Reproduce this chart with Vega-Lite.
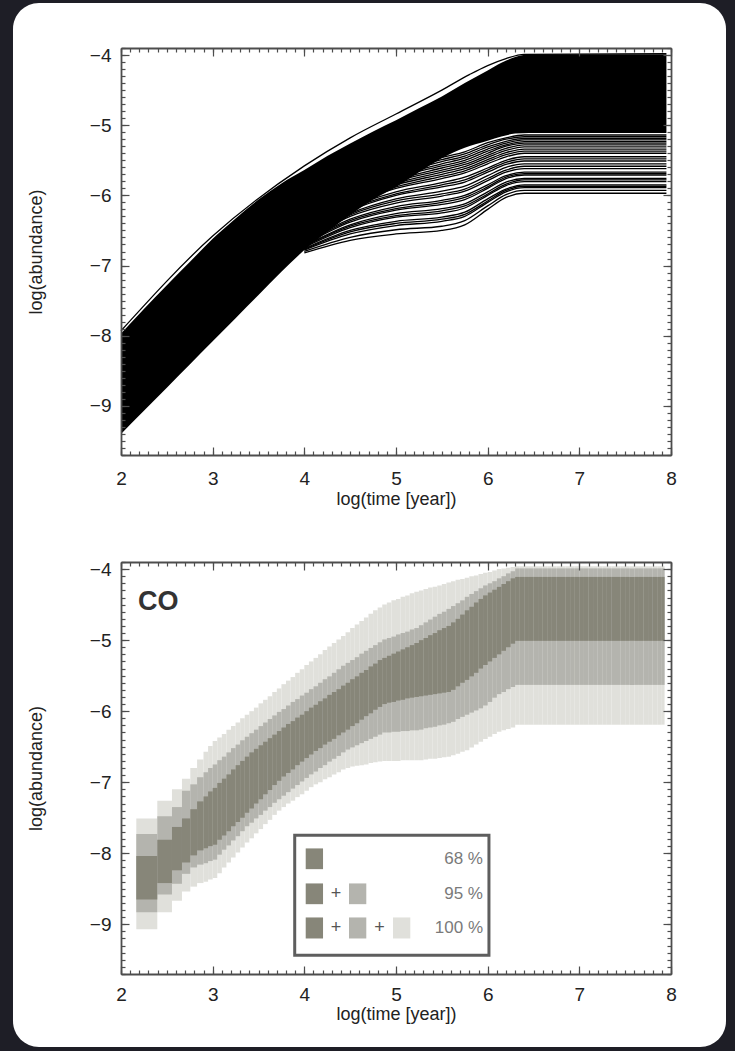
{
"$schema": "https://vega.github.io/schema/vega-lite/v6.json",
"background": "#1e1e26",
"padding": {"left": 12, "top": 3, "right": 10, "bottom": 4},
"autosize": {"type": "pad"},
"bounds": "flush",
"spacing": 107,
"config": {
  "view": {"stroke": null},
  "axis": {"grid": false, "domainColor": "#4d4d4d", "domainWidth": 1.8, "tickColor": "#4d4d4d", "tickWidth": 1.2, "labelFont": "Liberation Sans", "labelFontSize": 19, "labelColor": "#222", "titleFont": "Liberation Sans", "titleFontSize": 18, "titleFontWeight": "normal", "titleColor": "#222", "labelFlush": false, "labelOverlap": false}
},
"datasets": {
  "core": [
    {"x": 2.0, "lo": -9.4, "hi": -7.97},
    {"x": 2.25, "lo": -9.07, "hi": -7.62},
    {"x": 2.5, "lo": -8.74, "hi": -7.28},
    {"x": 2.75, "lo": -8.41, "hi": -6.95},
    {"x": 3.0, "lo": -8.08, "hi": -6.62},
    {"x": 3.25, "lo": -7.75, "hi": -6.33},
    {"x": 3.5, "lo": -7.42, "hi": -6.06},
    {"x": 3.75, "lo": -7.09, "hi": -5.83},
    {"x": 4.0, "lo": -6.78, "hi": -5.64},
    {"x": 4.25, "lo": -6.52, "hi": -5.44},
    {"x": 4.5, "lo": -6.28, "hi": -5.26},
    {"x": 4.75, "lo": -6.06, "hi": -5.09},
    {"x": 5.0, "lo": -5.88, "hi": -4.93},
    {"x": 5.25, "lo": -5.67, "hi": -4.76},
    {"x": 5.5, "lo": -5.47, "hi": -4.59},
    {"x": 5.75, "lo": -5.32, "hi": -4.4},
    {"x": 6.0, "lo": -5.22, "hi": -4.22},
    {"x": 6.15, "lo": -5.16, "hi": -4.11},
    {"x": 6.3, "lo": -5.12, "hi": -4.03},
    {"x": 6.45, "lo": -5.11, "hi": -3.99},
    {"x": 7.95, "lo": -5.11, "hi": -3.99}
  ],
  "lines": [
    {"id": "t1", "x": 2.0, "y": -7.93}, {"id": "t1", "x": 3.0, "y": -6.58}, {"id": "t1", "x": 4.0, "y": -5.58}, {"id": "t1", "x": 4.5, "y": -5.18}, {"id": "t1", "x": 5.0, "y": -4.84}, {"id": "t1", "x": 5.5, "y": -4.5}, {"id": "t1", "x": 5.8, "y": -4.28}, {"id": "t1", "x": 6.0, "y": -4.15}, {"id": "t1", "x": 6.2, "y": -4.05}, {"id": "t1", "x": 6.4, "y": -3.99}, {"id": "t1", "x": 7.95, "y": -3.98},
    {"id": "f1", "x": 4.0, "y": -6.82}, {"id": "f1", "x": 4.5, "y": -6.64}, {"id": "f1", "x": 5.0, "y": -6.55}, {"id": "f1", "x": 5.5, "y": -6.5}, {"id": "f1", "x": 5.75, "y": -6.42}, {"id": "f1", "x": 6.0, "y": -6.2}, {"id": "f1", "x": 6.2, "y": -6.03}, {"id": "f1", "x": 6.4, "y": -5.97}, {"id": "f1", "x": 7.95, "y": -5.97},
    {"id": "f2", "x": 4.0, "y": -6.8}, {"id": "f2", "x": 4.5, "y": -6.6}, {"id": "f2", "x": 5.0, "y": -6.49}, {"id": "f2", "x": 5.5, "y": -6.44}, {"id": "f2", "x": 5.75, "y": -6.36}, {"id": "f2", "x": 6.0, "y": -6.15}, {"id": "f2", "x": 6.2, "y": -5.99}, {"id": "f2", "x": 6.4, "y": -5.93}, {"id": "f2", "x": 7.95, "y": -5.93},
    {"id": "f3", "x": 4.0, "y": -6.78}, {"id": "f3", "x": 4.5, "y": -6.55}, {"id": "f3", "x": 5.0, "y": -6.43}, {"id": "f3", "x": 5.5, "y": -6.37}, {"id": "f3", "x": 5.75, "y": -6.3}, {"id": "f3", "x": 6.0, "y": -6.1}, {"id": "f3", "x": 6.2, "y": -5.95}, {"id": "f3", "x": 6.4, "y": -5.89}, {"id": "f3", "x": 7.95, "y": -5.89},
    {"id": "f4", "x": 4.0, "y": -6.76}, {"id": "f4", "x": 4.5, "y": -6.5}, {"id": "f4", "x": 5.0, "y": -6.37}, {"id": "f4", "x": 5.5, "y": -6.31}, {"id": "f4", "x": 5.75, "y": -6.24}, {"id": "f4", "x": 6.0, "y": -6.05}, {"id": "f4", "x": 6.2, "y": -5.91}, {"id": "f4", "x": 6.4, "y": -5.85}, {"id": "f4", "x": 7.95, "y": -5.85},
    {"id": "f5", "x": 4.0, "y": -6.74}, {"id": "f5", "x": 4.5, "y": -6.46}, {"id": "f5", "x": 5.0, "y": -6.31}, {"id": "f5", "x": 5.5, "y": -6.25}, {"id": "f5", "x": 5.75, "y": -6.18}, {"id": "f5", "x": 6.0, "y": -6.0}, {"id": "f5", "x": 6.2, "y": -5.86}, {"id": "f5", "x": 6.4, "y": -5.805}, {"id": "f5", "x": 7.95, "y": -5.805},
    {"id": "f6", "x": 4.0, "y": -6.72}, {"id": "f6", "x": 4.5, "y": -6.42}, {"id": "f6", "x": 5.0, "y": -6.26}, {"id": "f6", "x": 5.5, "y": -6.19}, {"id": "f6", "x": 5.75, "y": -6.12}, {"id": "f6", "x": 6.0, "y": -5.95}, {"id": "f6", "x": 6.2, "y": -5.81}, {"id": "f6", "x": 6.4, "y": -5.76}, {"id": "f6", "x": 7.95, "y": -5.76},
    {"id": "f7", "x": 4.0, "y": -6.7}, {"id": "f7", "x": 4.5, "y": -6.38}, {"id": "f7", "x": 5.0, "y": -6.21}, {"id": "f7", "x": 5.5, "y": -6.13}, {"id": "f7", "x": 5.75, "y": -6.06}, {"id": "f7", "x": 6.0, "y": -5.9}, {"id": "f7", "x": 6.2, "y": -5.76}, {"id": "f7", "x": 6.4, "y": -5.71}, {"id": "f7", "x": 7.95, "y": -5.71},
    {"id": "f8", "x": 4.0, "y": -6.68}, {"id": "f8", "x": 4.5, "y": -6.34}, {"id": "f8", "x": 5.0, "y": -6.16}, {"id": "f8", "x": 5.5, "y": -6.07}, {"id": "f8", "x": 5.75, "y": -6.0}, {"id": "f8", "x": 6.0, "y": -5.85}, {"id": "f8", "x": 6.2, "y": -5.72}, {"id": "f8", "x": 6.4, "y": -5.67}, {"id": "f8", "x": 7.95, "y": -5.67},
    {"id": "f9", "x": 4.0, "y": -6.66}, {"id": "f9", "x": 4.5, "y": -6.3}, {"id": "f9", "x": 5.0, "y": -6.11}, {"id": "f9", "x": 5.5, "y": -6.01}, {"id": "f9", "x": 5.75, "y": -5.94}, {"id": "f9", "x": 6.0, "y": -5.79}, {"id": "f9", "x": 6.2, "y": -5.67}, {"id": "f9", "x": 6.4, "y": -5.62}, {"id": "f9", "x": 7.95, "y": -5.62},
    {"id": "f10", "x": 4.0, "y": -6.64}, {"id": "f10", "x": 4.5, "y": -6.26}, {"id": "f10", "x": 5.0, "y": -6.05}, {"id": "f10", "x": 5.5, "y": -5.94}, {"id": "f10", "x": 5.75, "y": -5.87}, {"id": "f10", "x": 6.0, "y": -5.72}, {"id": "f10", "x": 6.2, "y": -5.6}, {"id": "f10", "x": 6.4, "y": -5.55}, {"id": "f10", "x": 7.95, "y": -5.55},
    {"id": "f11", "x": 4.0, "y": -6.62}, {"id": "f11", "x": 4.5, "y": -6.22}, {"id": "f11", "x": 5.0, "y": -6.0}, {"id": "f11", "x": 5.5, "y": -5.88}, {"id": "f11", "x": 5.75, "y": -5.81}, {"id": "f11", "x": 6.0, "y": -5.67}, {"id": "f11", "x": 6.2, "y": -5.56}, {"id": "f11", "x": 6.4, "y": -5.51}, {"id": "f11", "x": 7.95, "y": -5.51},
    {"id": "f12", "x": 4.0, "y": -6.6}, {"id": "f12", "x": 4.5, "y": -6.18}, {"id": "f12", "x": 5.0, "y": -5.95}, {"id": "f12", "x": 5.5, "y": -5.82}, {"id": "f12", "x": 5.75, "y": -5.74}, {"id": "f12", "x": 6.0, "y": -5.61}, {"id": "f12", "x": 6.2, "y": -5.5}, {"id": "f12", "x": 6.4, "y": -5.45}, {"id": "f12", "x": 7.95, "y": -5.45},
    {"id": "f13", "x": 4.0, "y": -6.58}, {"id": "f13", "x": 4.5, "y": -6.14}, {"id": "f13", "x": 5.0, "y": -5.9}, {"id": "f13", "x": 5.5, "y": -5.76}, {"id": "f13", "x": 5.75, "y": -5.68}, {"id": "f13", "x": 6.0, "y": -5.55}, {"id": "f13", "x": 6.2, "y": -5.45}, {"id": "f13", "x": 6.4, "y": -5.4}, {"id": "f13", "x": 7.95, "y": -5.4},
    {"id": "f14", "x": 4.0, "y": -6.56}, {"id": "f14", "x": 4.5, "y": -6.1}, {"id": "f14", "x": 5.0, "y": -5.85}, {"id": "f14", "x": 5.5, "y": -5.7}, {"id": "f14", "x": 5.75, "y": -5.62}, {"id": "f14", "x": 6.0, "y": -5.49}, {"id": "f14", "x": 6.2, "y": -5.39}, {"id": "f14", "x": 6.4, "y": -5.34}, {"id": "f14", "x": 7.95, "y": -5.34},
    {"id": "f15", "x": 4.0, "y": -6.54}, {"id": "f15", "x": 4.5, "y": -6.06}, {"id": "f15", "x": 5.0, "y": -5.8}, {"id": "f15", "x": 5.5, "y": -5.64}, {"id": "f15", "x": 5.75, "y": -5.56}, {"id": "f15", "x": 6.0, "y": -5.43}, {"id": "f15", "x": 6.2, "y": -5.33}, {"id": "f15", "x": 6.4, "y": -5.28}, {"id": "f15", "x": 7.95, "y": -5.28},
    {"id": "f16", "x": 4.0, "y": -6.52}, {"id": "f16", "x": 4.5, "y": -6.02}, {"id": "f16", "x": 5.0, "y": -5.75}, {"id": "f16", "x": 5.5, "y": -5.58}, {"id": "f16", "x": 5.75, "y": -5.5}, {"id": "f16", "x": 6.0, "y": -5.37}, {"id": "f16", "x": 6.2, "y": -5.28}, {"id": "f16", "x": 6.4, "y": -5.235}, {"id": "f16", "x": 7.95, "y": -5.235},
    {"id": "f17", "x": 4.0, "y": -6.5}, {"id": "f17", "x": 4.5, "y": -5.98}, {"id": "f17", "x": 5.0, "y": -5.7}, {"id": "f17", "x": 5.5, "y": -5.52}, {"id": "f17", "x": 5.75, "y": -5.44}, {"id": "f17", "x": 6.0, "y": -5.31}, {"id": "f17", "x": 6.2, "y": -5.23}, {"id": "f17", "x": 6.4, "y": -5.19}, {"id": "f17", "x": 7.95, "y": -5.19},
    {"id": "f18", "x": 4.0, "y": -6.48}, {"id": "f18", "x": 4.5, "y": -5.94}, {"id": "f18", "x": 5.0, "y": -5.65}, {"id": "f18", "x": 5.5, "y": -5.46}, {"id": "f18", "x": 5.75, "y": -5.38}, {"id": "f18", "x": 6.0, "y": -5.25}, {"id": "f18", "x": 6.2, "y": -5.18}, {"id": "f18", "x": 6.4, "y": -5.14}, {"id": "f18", "x": 7.95, "y": -5.14},
    {"id": "g1", "x": 4.0, "y": -6.49}, {"id": "g1", "x": 4.5, "y": -5.96}, {"id": "g1", "x": 5.0, "y": -5.68}, {"id": "g1", "x": 5.5, "y": -5.49}, {"id": "g1", "x": 5.75, "y": -5.41}, {"id": "g1", "x": 6.0, "y": -5.28}, {"id": "g1", "x": 6.2, "y": -5.2}, {"id": "g1", "x": 6.4, "y": -5.165}, {"id": "g1", "x": 7.95, "y": -5.165},
    {"id": "g2", "x": 4.0, "y": -6.51}, {"id": "g2", "x": 4.5, "y": -6.0}, {"id": "g2", "x": 5.0, "y": -5.73}, {"id": "g2", "x": 5.5, "y": -5.55}, {"id": "g2", "x": 5.75, "y": -5.47}, {"id": "g2", "x": 6.0, "y": -5.34}, {"id": "g2", "x": 6.2, "y": -5.255}, {"id": "g2", "x": 6.4, "y": -5.21}, {"id": "g2", "x": 7.95, "y": -5.21},
    {"id": "g3", "x": 4.0, "y": -6.53}, {"id": "g3", "x": 4.5, "y": -6.04}, {"id": "g3", "x": 5.0, "y": -5.78}, {"id": "g3", "x": 5.5, "y": -5.61}, {"id": "g3", "x": 5.75, "y": -5.53}, {"id": "g3", "x": 6.0, "y": -5.4}, {"id": "g3", "x": 6.2, "y": -5.3}, {"id": "g3", "x": 6.4, "y": -5.255}, {"id": "g3", "x": 7.95, "y": -5.255},
    {"id": "g4", "x": 4.0, "y": -6.55}, {"id": "g4", "x": 4.5, "y": -6.08}, {"id": "g4", "x": 5.0, "y": -5.83}, {"id": "g4", "x": 5.5, "y": -5.67}, {"id": "g4", "x": 5.75, "y": -5.59}, {"id": "g4", "x": 6.0, "y": -5.46}, {"id": "g4", "x": 6.2, "y": -5.36}, {"id": "g4", "x": 6.4, "y": -5.31}, {"id": "g4", "x": 7.95, "y": -5.31},
    {"id": "g5", "x": 4.0, "y": -6.57}, {"id": "g5", "x": 4.5, "y": -6.12}, {"id": "g5", "x": 5.0, "y": -5.88}, {"id": "g5", "x": 5.5, "y": -5.73}, {"id": "g5", "x": 5.75, "y": -5.65}, {"id": "g5", "x": 6.0, "y": -5.52}, {"id": "g5", "x": 6.2, "y": -5.42}, {"id": "g5", "x": 6.4, "y": -5.37}, {"id": "g5", "x": 7.95, "y": -5.37},
    {"id": "g6", "x": 4.0, "y": -6.61}, {"id": "g6", "x": 4.5, "y": -6.2}, {"id": "g6", "x": 5.0, "y": -5.98}, {"id": "g6", "x": 5.5, "y": -5.85}, {"id": "g6", "x": 5.75, "y": -5.78}, {"id": "g6", "x": 6.0, "y": -5.64}, {"id": "g6", "x": 6.2, "y": -5.53}, {"id": "g6", "x": 6.4, "y": -5.48}, {"id": "g6", "x": 7.95, "y": -5.48},
    {"id": "g7", "x": 4.0, "y": -6.65}, {"id": "g7", "x": 4.5, "y": -6.28}, {"id": "g7", "x": 5.0, "y": -6.08}, {"id": "g7", "x": 5.5, "y": -5.98}, {"id": "g7", "x": 5.75, "y": -5.91}, {"id": "g7", "x": 6.0, "y": -5.76}, {"id": "g7", "x": 6.2, "y": -5.64}, {"id": "g7", "x": 6.4, "y": -5.585}, {"id": "g7", "x": 7.95, "y": -5.585},
    {"id": "g8", "x": 4.0, "y": -6.69}, {"id": "g8", "x": 4.5, "y": -6.36}, {"id": "g8", "x": 5.0, "y": -6.19}, {"id": "g8", "x": 5.5, "y": -6.1}, {"id": "g8", "x": 5.75, "y": -6.03}, {"id": "g8", "x": 6.0, "y": -5.88}, {"id": "g8", "x": 6.2, "y": -5.74}, {"id": "g8", "x": 6.4, "y": -5.69}, {"id": "g8", "x": 7.95, "y": -5.69},
    {"id": "g9", "x": 4.0, "y": -6.73}, {"id": "g9", "x": 4.5, "y": -6.44}, {"id": "g9", "x": 5.0, "y": -6.29}, {"id": "g9", "x": 5.5, "y": -6.22}, {"id": "g9", "x": 5.75, "y": -6.15}, {"id": "g9", "x": 6.0, "y": -5.98}, {"id": "g9", "x": 6.2, "y": -5.84}, {"id": "g9", "x": 6.4, "y": -5.78}, {"id": "g9", "x": 7.95, "y": -5.78},
    {"id": "g10", "x": 4.0, "y": -6.77}, {"id": "g10", "x": 4.5, "y": -6.52}, {"id": "g10", "x": 5.0, "y": -6.4}, {"id": "g10", "x": 5.5, "y": -6.34}, {"id": "g10", "x": 5.75, "y": -6.27}, {"id": "g10", "x": 6.0, "y": -6.08}, {"id": "g10", "x": 6.2, "y": -5.93}, {"id": "g10", "x": 6.4, "y": -5.87}, {"id": "g10", "x": 7.95, "y": -5.87}
  ],
  "bands": [
    {"x0": 2.167, "x1": 2.396, "lo100": -9.07, "lo95": -8.83, "lo68": -8.65, "hi68": -8.04, "hi95": -7.73, "hi100": -7.51},
    {"x0": 2.396, "x1": 2.556, "lo100": -8.83, "lo95": -8.58, "lo68": -8.42, "hi68": -7.81, "hi95": -7.48, "hi100": -7.26},
    {"x0": 2.556, "x1": 2.665, "lo100": -8.67, "lo95": -8.43, "lo68": -8.24, "hi68": -7.63, "hi95": -7.35, "hi100": -7.1},
    {"x0": 2.665, "x1": 2.756, "lo100": -8.54, "lo95": -8.29, "lo68": -8.13, "hi68": -7.51, "hi95": -7.12, "hi100": -6.95},
    {"x0": 2.756, "x1": 2.83, "lo100": -8.47, "lo95": -8.2, "lo68": -8.03, "hi68": -7.38, "hi95": -7.03, "hi100": -6.8},
    {"x0": 2.83, "x1": 2.9, "lo100": -8.42, "lo95": -8.16, "lo68": -7.96, "hi68": -7.27, "hi95": -6.93, "hi100": -6.68},
    {"x0": 2.9, "x1": 2.95, "lo100": -8.4, "lo95": -8.14, "lo68": -7.93, "hi68": -7.2, "hi95": -6.86, "hi100": -6.57},
    {"x0": 2.95, "x1": 3.0, "lo100": -8.37, "lo95": -8.11, "lo68": -7.9, "hi68": -7.13, "hi95": -6.8, "hi100": -6.49},
    {"x0": 3.0, "x1": 3.05, "lo100": -8.35, "lo95": -8.09, "lo68": -7.88, "hi68": -7.08, "hi95": -6.75, "hi100": -6.42},
    {"x0": 3.05, "x1": 3.1, "lo100": -8.28, "lo95": -8.02, "lo68": -7.81, "hi68": -7.01, "hi95": -6.69, "hi100": -6.37},
    {"x0": 3.1, "x1": 3.15, "lo100": -8.2, "lo95": -7.95, "lo68": -7.75, "hi68": -6.95, "hi95": -6.64, "hi100": -6.32},
    {"x0": 3.15, "x1": 3.2, "lo100": -8.13, "lo95": -7.89, "lo68": -7.69, "hi68": -6.89, "hi95": -6.58, "hi100": -6.26},
    {"x0": 3.2, "x1": 3.25, "lo100": -8.06, "lo95": -7.82, "lo68": -7.62, "hi68": -6.82, "hi95": -6.52, "hi100": -6.21},
    {"x0": 3.25, "x1": 3.3, "lo100": -7.99, "lo95": -7.76, "lo68": -7.56, "hi68": -6.76, "hi95": -6.47, "hi100": -6.16},
    {"x0": 3.3, "x1": 3.35, "lo100": -7.92, "lo95": -7.69, "lo68": -7.5, "hi68": -6.7, "hi95": -6.41, "hi100": -6.1},
    {"x0": 3.35, "x1": 3.4, "lo100": -7.85, "lo95": -7.62, "lo68": -7.43, "hi68": -6.64, "hi95": -6.36, "hi100": -6.05},
    {"x0": 3.4, "x1": 3.45, "lo100": -7.79, "lo95": -7.57, "lo68": -7.37, "hi68": -6.58, "hi95": -6.31, "hi100": -6.0},
    {"x0": 3.45, "x1": 3.5, "lo100": -7.72, "lo95": -7.51, "lo68": -7.3, "hi68": -6.53, "hi95": -6.26, "hi100": -5.95},
    {"x0": 3.5, "x1": 3.55, "lo100": -7.66, "lo95": -7.46, "lo68": -7.24, "hi68": -6.48, "hi95": -6.21, "hi100": -5.89},
    {"x0": 3.55, "x1": 3.6, "lo100": -7.59, "lo95": -7.4, "lo68": -7.17, "hi68": -6.43, "hi95": -6.16, "hi100": -5.84},
    {"x0": 3.6, "x1": 3.65, "lo100": -7.53, "lo95": -7.35, "lo68": -7.11, "hi68": -6.38, "hi95": -6.11, "hi100": -5.79},
    {"x0": 3.65, "x1": 3.7, "lo100": -7.46, "lo95": -7.29, "lo68": -7.04, "hi68": -6.33, "hi95": -6.06, "hi100": -5.73},
    {"x0": 3.7, "x1": 3.75, "lo100": -7.4, "lo95": -7.24, "lo68": -6.98, "hi68": -6.28, "hi95": -6.01, "hi100": -5.68},
    {"x0": 3.75, "x1": 3.8, "lo100": -7.35, "lo95": -7.19, "lo68": -6.92, "hi68": -6.23, "hi95": -5.97, "hi100": -5.62},
    {"x0": 3.8, "x1": 3.85, "lo100": -7.3, "lo95": -7.14, "lo68": -6.87, "hi68": -6.18, "hi95": -5.92, "hi100": -5.57},
    {"x0": 3.85, "x1": 3.9, "lo100": -7.26, "lo95": -7.09, "lo68": -6.82, "hi68": -6.14, "hi95": -5.87, "hi100": -5.52},
    {"x0": 3.9, "x1": 3.95, "lo100": -7.21, "lo95": -7.04, "lo68": -6.76, "hi68": -6.09, "hi95": -5.83, "hi100": -5.46},
    {"x0": 3.95, "x1": 4.0, "lo100": -7.17, "lo95": -6.99, "lo68": -6.71, "hi68": -6.05, "hi95": -5.78, "hi100": -5.41},
    {"x0": 4.0, "x1": 4.05, "lo100": -7.12, "lo95": -6.94, "lo68": -6.66, "hi68": -6.0, "hi95": -5.74, "hi100": -5.35},
    {"x0": 4.05, "x1": 4.1, "lo100": -7.07, "lo95": -6.89, "lo68": -6.61, "hi68": -5.95, "hi95": -5.69, "hi100": -5.3},
    {"x0": 4.1, "x1": 4.15, "lo100": -7.03, "lo95": -6.85, "lo68": -6.56, "hi68": -5.91, "hi95": -5.65, "hi100": -5.25},
    {"x0": 4.15, "x1": 4.2, "lo100": -7.0, "lo95": -6.8, "lo68": -6.52, "hi68": -5.86, "hi95": -5.6, "hi100": -5.2},
    {"x0": 4.2, "x1": 4.25, "lo100": -6.96, "lo95": -6.76, "lo68": -6.47, "hi68": -5.82, "hi95": -5.55, "hi100": -5.14},
    {"x0": 4.25, "x1": 4.3, "lo100": -6.93, "lo95": -6.71, "lo68": -6.43, "hi68": -5.77, "hi95": -5.51, "hi100": -5.09},
    {"x0": 4.3, "x1": 4.35, "lo100": -6.89, "lo95": -6.67, "lo68": -6.39, "hi68": -5.73, "hi95": -5.46, "hi100": -5.04},
    {"x0": 4.35, "x1": 4.4, "lo100": -6.86, "lo95": -6.63, "lo68": -6.34, "hi68": -5.69, "hi95": -5.41, "hi100": -4.99},
    {"x0": 4.4, "x1": 4.45, "lo100": -6.82, "lo95": -6.58, "lo68": -6.3, "hi68": -5.64, "hi95": -5.36, "hi100": -4.94},
    {"x0": 4.45, "x1": 4.5, "lo100": -6.8, "lo95": -6.54, "lo68": -6.26, "hi68": -5.6, "hi95": -5.32, "hi100": -4.89},
    {"x0": 4.5, "x1": 4.55, "lo100": -6.78, "lo95": -6.51, "lo68": -6.21, "hi68": -5.55, "hi95": -5.28, "hi100": -4.83},
    {"x0": 4.55, "x1": 4.6, "lo100": -6.77, "lo95": -6.48, "lo68": -6.17, "hi68": -5.51, "hi95": -5.24, "hi100": -4.78},
    {"x0": 4.6, "x1": 4.65, "lo100": -6.76, "lo95": -6.45, "lo68": -6.12, "hi68": -5.46, "hi95": -5.19, "hi100": -4.73},
    {"x0": 4.65, "x1": 4.7, "lo100": -6.75, "lo95": -6.42, "lo68": -6.07, "hi68": -5.42, "hi95": -5.15, "hi100": -4.68},
    {"x0": 4.7, "x1": 4.75, "lo100": -6.73, "lo95": -6.39, "lo68": -6.03, "hi68": -5.37, "hi95": -5.11, "hi100": -4.63},
    {"x0": 4.75, "x1": 4.8, "lo100": -6.72, "lo95": -6.36, "lo68": -5.98, "hi68": -5.33, "hi95": -5.07, "hi100": -4.58},
    {"x0": 4.8, "x1": 4.85, "lo100": -6.71, "lo95": -6.33, "lo68": -5.94, "hi68": -5.28, "hi95": -5.03, "hi100": -4.54},
    {"x0": 4.85, "x1": 4.9, "lo100": -6.7, "lo95": -6.3, "lo68": -5.9, "hi68": -5.25, "hi95": -4.99, "hi100": -4.5},
    {"x0": 4.9, "x1": 4.95, "lo100": -6.7, "lo95": -6.3, "lo68": -5.88, "hi68": -5.22, "hi95": -4.97, "hi100": -4.47},
    {"x0": 4.95, "x1": 5.0, "lo100": -6.7, "lo95": -6.29, "lo68": -5.87, "hi68": -5.19, "hi95": -4.95, "hi100": -4.44},
    {"x0": 5.0, "x1": 5.05, "lo100": -6.7, "lo95": -6.29, "lo68": -5.85, "hi68": -5.16, "hi95": -4.92, "hi100": -4.42},
    {"x0": 5.05, "x1": 5.1, "lo100": -6.69, "lo95": -6.28, "lo68": -5.84, "hi68": -5.13, "hi95": -4.9, "hi100": -4.39},
    {"x0": 5.1, "x1": 5.15, "lo100": -6.69, "lo95": -6.28, "lo68": -5.82, "hi68": -5.1, "hi95": -4.88, "hi100": -4.37},
    {"x0": 5.15, "x1": 5.2, "lo100": -6.69, "lo95": -6.27, "lo68": -5.81, "hi68": -5.07, "hi95": -4.85, "hi100": -4.34},
    {"x0": 5.2, "x1": 5.25, "lo100": -6.69, "lo95": -6.27, "lo68": -5.8, "hi68": -5.04, "hi95": -4.83, "hi100": -4.32},
    {"x0": 5.25, "x1": 5.3, "lo100": -6.69, "lo95": -6.26, "lo68": -5.79, "hi68": -5.0, "hi95": -4.79, "hi100": -4.3},
    {"x0": 5.3, "x1": 5.35, "lo100": -6.68, "lo95": -6.24, "lo68": -5.78, "hi68": -4.97, "hi95": -4.75, "hi100": -4.28},
    {"x0": 5.35, "x1": 5.4, "lo100": -6.67, "lo95": -6.23, "lo68": -5.77, "hi68": -4.93, "hi95": -4.71, "hi100": -4.26},
    {"x0": 5.4, "x1": 5.45, "lo100": -6.67, "lo95": -6.22, "lo68": -5.76, "hi68": -4.9, "hi95": -4.67, "hi100": -4.25},
    {"x0": 5.45, "x1": 5.5, "lo100": -6.66, "lo95": -6.2, "lo68": -5.75, "hi68": -4.86, "hi95": -4.63, "hi100": -4.23},
    {"x0": 5.5, "x1": 5.55, "lo100": -6.65, "lo95": -6.19, "lo68": -5.74, "hi68": -4.83, "hi95": -4.6, "hi100": -4.21},
    {"x0": 5.55, "x1": 5.6, "lo100": -6.64, "lo95": -6.17, "lo68": -5.73, "hi68": -4.8, "hi95": -4.56, "hi100": -4.19},
    {"x0": 5.6, "x1": 5.65, "lo100": -6.62, "lo95": -6.15, "lo68": -5.7, "hi68": -4.75, "hi95": -4.52, "hi100": -4.17},
    {"x0": 5.65, "x1": 5.7, "lo100": -6.6, "lo95": -6.11, "lo68": -5.65, "hi68": -4.7, "hi95": -4.48, "hi100": -4.15},
    {"x0": 5.7, "x1": 5.75, "lo100": -6.57, "lo95": -6.08, "lo68": -5.6, "hi68": -4.64, "hi95": -4.44, "hi100": -4.14},
    {"x0": 5.75, "x1": 5.8, "lo100": -6.55, "lo95": -6.05, "lo68": -5.56, "hi68": -4.58, "hi95": -4.39, "hi100": -4.12},
    {"x0": 5.8, "x1": 5.85, "lo100": -6.51, "lo95": -6.02, "lo68": -5.51, "hi68": -4.53, "hi95": -4.35, "hi100": -4.1},
    {"x0": 5.85, "x1": 5.9, "lo100": -6.47, "lo95": -5.99, "lo68": -5.46, "hi68": -4.47, "hi95": -4.31, "hi100": -4.09},
    {"x0": 5.9, "x1": 5.95, "lo100": -6.43, "lo95": -5.96, "lo68": -5.4, "hi68": -4.42, "hi95": -4.27, "hi100": -4.07},
    {"x0": 5.95, "x1": 6.0, "lo100": -6.39, "lo95": -5.92, "lo68": -5.35, "hi68": -4.37, "hi95": -4.23, "hi100": -4.05},
    {"x0": 6.0, "x1": 6.05, "lo100": -6.36, "lo95": -5.87, "lo68": -5.3, "hi68": -4.33, "hi95": -4.2, "hi100": -4.04},
    {"x0": 6.05, "x1": 6.1, "lo100": -6.32, "lo95": -5.81, "lo68": -5.25, "hi68": -4.29, "hi95": -4.17, "hi100": -4.02},
    {"x0": 6.1, "x1": 6.15, "lo100": -6.29, "lo95": -5.76, "lo68": -5.2, "hi68": -4.25, "hi95": -4.13, "hi100": -4.0},
    {"x0": 6.15, "x1": 6.2, "lo100": -6.27, "lo95": -5.73, "lo68": -5.15, "hi68": -4.21, "hi95": -4.1, "hi100": -3.99},
    {"x0": 6.2, "x1": 6.25, "lo100": -6.25, "lo95": -5.69, "lo68": -5.1, "hi68": -4.17, "hi95": -4.06, "hi100": -3.98},
    {"x0": 6.25, "x1": 6.3, "lo100": -6.23, "lo95": -5.66, "lo68": -5.05, "hi68": -4.13, "hi95": -4.03, "hi100": -3.97},
    {"x0": 6.3, "x1": 6.35, "lo100": -6.19, "lo95": -5.63, "lo68": -5.01, "hi68": -4.11, "hi95": -3.99, "hi100": -3.96},
    {"x0": 6.35, "x1": 6.4, "lo100": -6.19, "lo95": -5.63, "lo68": -5.01, "hi68": -4.11, "hi95": -3.99, "hi100": -3.96},
    {"x0": 6.4, "x1": 6.45, "lo100": -6.19, "lo95": -5.63, "lo68": -5.01, "hi68": -4.11, "hi95": -3.99, "hi100": -3.96},
    {"x0": 6.45, "x1": 6.5, "lo100": -6.19, "lo95": -5.63, "lo68": -5.01, "hi68": -4.11, "hi95": -3.99, "hi100": -3.96},
    {"x0": 6.5, "x1": 6.55, "lo100": -6.19, "lo95": -5.63, "lo68": -5.01, "hi68": -4.11, "hi95": -3.99, "hi100": -3.96},
    {"x0": 6.55, "x1": 6.6, "lo100": -6.19, "lo95": -5.63, "lo68": -5.01, "hi68": -4.11, "hi95": -3.99, "hi100": -3.96},
    {"x0": 6.6, "x1": 6.65, "lo100": -6.19, "lo95": -5.63, "lo68": -5.01, "hi68": -4.11, "hi95": -3.99, "hi100": -3.96},
    {"x0": 6.65, "x1": 6.7, "lo100": -6.19, "lo95": -5.63, "lo68": -5.01, "hi68": -4.11, "hi95": -3.99, "hi100": -3.96},
    {"x0": 6.7, "x1": 6.75, "lo100": -6.19, "lo95": -5.63, "lo68": -5.01, "hi68": -4.11, "hi95": -3.99, "hi100": -3.96},
    {"x0": 6.75, "x1": 6.8, "lo100": -6.19, "lo95": -5.63, "lo68": -5.01, "hi68": -4.11, "hi95": -3.99, "hi100": -3.96},
    {"x0": 6.8, "x1": 6.85, "lo100": -6.19, "lo95": -5.63, "lo68": -5.01, "hi68": -4.11, "hi95": -3.99, "hi100": -3.96},
    {"x0": 6.85, "x1": 6.9, "lo100": -6.19, "lo95": -5.63, "lo68": -5.01, "hi68": -4.11, "hi95": -3.99, "hi100": -3.96},
    {"x0": 6.9, "x1": 6.95, "lo100": -6.19, "lo95": -5.63, "lo68": -5.01, "hi68": -4.11, "hi95": -3.99, "hi100": -3.96},
    {"x0": 6.95, "x1": 7.0, "lo100": -6.19, "lo95": -5.63, "lo68": -5.01, "hi68": -4.11, "hi95": -3.99, "hi100": -3.96},
    {"x0": 7.0, "x1": 7.05, "lo100": -6.19, "lo95": -5.63, "lo68": -5.01, "hi68": -4.11, "hi95": -3.99, "hi100": -3.96},
    {"x0": 7.05, "x1": 7.1, "lo100": -6.19, "lo95": -5.63, "lo68": -5.01, "hi68": -4.11, "hi95": -3.99, "hi100": -3.96},
    {"x0": 7.1, "x1": 7.15, "lo100": -6.19, "lo95": -5.63, "lo68": -5.01, "hi68": -4.11, "hi95": -3.99, "hi100": -3.96},
    {"x0": 7.15, "x1": 7.2, "lo100": -6.19, "lo95": -5.63, "lo68": -5.01, "hi68": -4.11, "hi95": -3.99, "hi100": -3.96},
    {"x0": 7.2, "x1": 7.25, "lo100": -6.19, "lo95": -5.63, "lo68": -5.01, "hi68": -4.11, "hi95": -3.99, "hi100": -3.96},
    {"x0": 7.25, "x1": 7.3, "lo100": -6.19, "lo95": -5.63, "lo68": -5.01, "hi68": -4.11, "hi95": -3.99, "hi100": -3.96},
    {"x0": 7.3, "x1": 7.35, "lo100": -6.19, "lo95": -5.63, "lo68": -5.01, "hi68": -4.11, "hi95": -3.99, "hi100": -3.96},
    {"x0": 7.35, "x1": 7.4, "lo100": -6.19, "lo95": -5.63, "lo68": -5.01, "hi68": -4.11, "hi95": -3.99, "hi100": -3.96},
    {"x0": 7.4, "x1": 7.45, "lo100": -6.19, "lo95": -5.63, "lo68": -5.01, "hi68": -4.11, "hi95": -3.99, "hi100": -3.96},
    {"x0": 7.45, "x1": 7.5, "lo100": -6.19, "lo95": -5.63, "lo68": -5.01, "hi68": -4.11, "hi95": -3.99, "hi100": -3.96},
    {"x0": 7.5, "x1": 7.55, "lo100": -6.19, "lo95": -5.63, "lo68": -5.01, "hi68": -4.11, "hi95": -3.99, "hi100": -3.96},
    {"x0": 7.55, "x1": 7.6, "lo100": -6.19, "lo95": -5.63, "lo68": -5.01, "hi68": -4.11, "hi95": -3.99, "hi100": -3.96},
    {"x0": 7.6, "x1": 7.65, "lo100": -6.19, "lo95": -5.63, "lo68": -5.01, "hi68": -4.11, "hi95": -3.99, "hi100": -3.96},
    {"x0": 7.65, "x1": 7.7, "lo100": -6.19, "lo95": -5.63, "lo68": -5.01, "hi68": -4.11, "hi95": -3.99, "hi100": -3.96},
    {"x0": 7.7, "x1": 7.75, "lo100": -6.19, "lo95": -5.63, "lo68": -5.01, "hi68": -4.11, "hi95": -3.99, "hi100": -3.96},
    {"x0": 7.75, "x1": 7.8, "lo100": -6.19, "lo95": -5.63, "lo68": -5.01, "hi68": -4.11, "hi95": -3.99, "hi100": -3.96},
    {"x0": 7.8, "x1": 7.85, "lo100": -6.19, "lo95": -5.63, "lo68": -5.01, "hi68": -4.11, "hi95": -3.99, "hi100": -3.96},
    {"x0": 7.85, "x1": 7.9, "lo100": -6.19, "lo95": -5.63, "lo68": -5.01, "hi68": -4.11, "hi95": -3.99, "hi100": -3.96},
    {"x0": 7.9, "x1": 7.93, "lo100": -6.19, "lo95": -5.63, "lo68": -5.01, "hi68": -4.11, "hi95": -3.99, "hi100": -3.96}
  ],
  "lsq": [
    {"x0": 4.015, "x1": 4.204, "y0": -8.224, "y1": -7.932, "level": "68"},
    {"x0": 4.015, "x1": 4.204, "y0": -8.717, "y1": -8.425, "level": "68"},
    {"x0": 4.487, "x1": 4.676, "y0": -8.717, "y1": -8.425, "level": "95"},
    {"x0": 4.015, "x1": 4.204, "y0": -9.2, "y1": -8.904, "level": "68"},
    {"x0": 4.487, "x1": 4.676, "y0": -9.2, "y1": -8.904, "level": "95"},
    {"x0": 4.967, "x1": 5.156, "y0": -9.2, "y1": -8.904, "level": "100"}
  ],
  "lplus": [
    {"x": 4.345, "y": -8.571, "t": "+"},
    {"x": 4.345, "y": -9.052, "t": "+"},
    {"x": 4.82, "y": -9.052, "t": "+"}
  ],
  "lpct": [
    {"x": 5.949, "y": -8.078, "t": "68 %"},
    {"x": 5.949, "y": -8.571, "t": "95 %"},
    {"x": 5.949, "y": -9.052, "t": "100 %"}
  ]
},
"vconcat": [
  {
    "width": 550, "height": 407,
    "resolve": {"axis": {"x": "independent", "y": "independent"}},
    "layer": [
      {
        "data": {"values": [{}]},
        "mark": {"type": "rect", "fill": "#ffffff", "cornerRadiusTopLeft": 26, "cornerRadiusTopRight": 26},
        "encoding": {
          "x": {"datum": 0.8217, "type": "quantitative", "axis": null, "scale": {"domain": [2, 8], "nice": false, "zero": false}},
          "x2": {"datum": 8.6},
          "y": {"datum": -3.259, "type": "quantitative", "axis": null, "scale": {"domain": [-9.7, -3.9], "nice": false, "zero": false}},
          "y2": {"datum": -10.783}
        }
      },
      {
        "data": {"name": "core"},
        "mark": {"type": "area", "color": "#000000", "interpolate": "monotone"},
        "encoding": {
          "x": {"field": "x", "type": "quantitative", "axis": {"zindex": 1, "orient": "bottom", "values": [2, 3, 4, 5, 6, 7, 8], "format": "d", "tickSize": -8, "labelPadding": 22, "title": "log(time [year])", "titlePadding": 2}},
          "y": {"field": "hi", "type": "quantitative", "axis": {"zindex": 1, "orient": "left", "values": [-9, -8, -7, -6, -5, -4], "format": "d", "tickSize": -8, "labelPadding": 18, "title": "log(abundance)", "titlePadding": 44}},
          "y2": {"field": "lo"}
        }
      },
      {
        "data": {"name": "lines"},
        "mark": {"type": "line", "color": "#000000", "strokeWidth": 1.3, "interpolate": "monotone"},
        "encoding": {
          "x": {"field": "x", "type": "quantitative", "axis": {"zindex": 1, "orient": "bottom", "values": [2,2.1,2.2,2.3,2.4,2.5,2.6,2.7,2.8,2.9,3,3.1,3.2,3.3,3.4,3.5,3.6,3.7,3.8,3.9,4,4.1,4.2,4.3,4.4,4.5,4.6,4.7,4.8,4.9,5,5.1,5.2,5.3,5.4,5.5,5.6,5.7,5.8,5.9,6,6.1,6.2,6.3,6.4,6.5,6.6,6.7,6.8,6.9,7,7.1,7.2,7.3,7.4,7.5,7.6,7.7,7.8,7.9,8], "labels": false, "domain": false, "tickSize": -4, "title": null}},
          "y": {"field": "y", "type": "quantitative", "axis": {"zindex": 1, "orient": "left", "values": [-9.7,-9.6,-9.5,-9.4,-9.3,-9.2,-9.1,-9,-8.9,-8.8,-8.7,-8.6,-8.5,-8.4,-8.3,-8.2,-8.1,-8,-7.9,-7.8,-7.7,-7.6,-7.5,-7.4,-7.3,-7.2,-7.1,-7,-6.9,-6.8,-6.7,-6.6,-6.5,-6.4,-6.3,-6.2,-6.1,-6,-5.9,-5.8,-5.7,-5.6,-5.5,-5.4,-5.3,-5.2,-5.1,-5,-4.9,-4.8,-4.7,-4.6,-4.5,-4.4,-4.3,-4.2,-4.1,-4,-3.9], "labels": false, "domain": false, "tickSize": -4, "title": null}},
          "detail": {"field": "id"}
        }
      },
      {
        "data": {"values": [{}]},
        "mark": {"type": "point", "opacity": 0},
        "encoding": {
          "x": {"datum": 5, "type": "quantitative", "axis": {"zindex": 1, "orient": "top", "values": [2, 3, 4, 5, 6, 7, 8], "labels": false, "tickSize": -8, "title": null}},
          "y": {"datum": -6, "type": "quantitative", "axis": {"zindex": 1, "orient": "right", "values": [-9, -8, -7, -6, -5, -4], "labels": false, "tickSize": -8, "title": null}}
        }
      },
      {
        "data": {"values": [{}]},
        "mark": {"type": "point", "opacity": 0},
        "encoding": {
          "x": {"datum": 5, "type": "quantitative", "axis": {"zindex": 1, "orient": "top", "values": [2,2.1,2.2,2.3,2.4,2.5,2.6,2.7,2.8,2.9,3,3.1,3.2,3.3,3.4,3.5,3.6,3.7,3.8,3.9,4,4.1,4.2,4.3,4.4,4.5,4.6,4.7,4.8,4.9,5,5.1,5.2,5.3,5.4,5.5,5.6,5.7,5.8,5.9,6,6.1,6.2,6.3,6.4,6.5,6.6,6.7,6.8,6.9,7,7.1,7.2,7.3,7.4,7.5,7.6,7.7,7.8,7.9,8], "labels": false, "domain": false, "tickSize": -4, "title": null}},
          "y": {"datum": -6, "type": "quantitative", "axis": {"zindex": 1, "orient": "right", "values": [-9.7,-9.6,-9.5,-9.4,-9.3,-9.2,-9.1,-9,-8.9,-8.8,-8.7,-8.6,-8.5,-8.4,-8.3,-8.2,-8.1,-8,-7.9,-7.8,-7.7,-7.6,-7.5,-7.4,-7.3,-7.2,-7.1,-7,-6.9,-6.8,-6.7,-6.6,-6.5,-6.4,-6.3,-6.2,-6.1,-6,-5.9,-5.8,-5.7,-5.6,-5.5,-5.4,-5.3,-5.2,-5.1,-5,-4.9,-4.8,-4.7,-4.6,-4.5,-4.4,-4.3,-4.2,-4.1,-4,-3.9], "labels": false, "domain": false, "tickSize": -4, "title": null}}
        }
      }
    ]
  },
  {
    "width": 550, "height": 412,
    "resolve": {"axis": {"x": "independent", "y": "independent"}},
    "layer": [
      {
        "data": {"values": [{}]},
        "mark": {"type": "rect", "fill": "#ffffff", "cornerRadiusBottomLeft": 26, "cornerRadiusBottomRight": 26},
        "encoding": {
          "x": {"datum": 0.8217, "type": "quantitative", "axis": null, "scale": {"domain": [2, 8], "nice": false, "zero": false}},
          "x2": {"datum": 8.6},
          "y": {"datum": -3.4354, "type": "quantitative", "axis": null, "scale": {"domain": [-9.7, -3.9], "nice": false, "zero": false}},
          "y2": {"datum": -10.728}
        }
      },
      {
        "data": {"name": "bands"},
        "mark": {"type": "rect", "color": "#e0e0db"},
        "encoding": {
          "x": {"field": "x0", "type": "quantitative", "axis": {"zindex": 1, "orient": "bottom", "values": [2, 3, 4, 5, 6, 7, 8], "format": "d", "tickSize": -8, "labelPadding": 19, "title": "log(time [year])", "titlePadding": 1}},
          "x2": {"field": "x1"},
          "y": {"field": "lo100", "type": "quantitative", "axis": {"zindex": 1, "orient": "left", "values": [-9, -8, -7, -6, -5, -4], "format": "d", "tickSize": -8, "labelPadding": 18, "title": "log(abundance)", "titlePadding": 44}},
          "y2": {"field": "hi100"}
        }
      },
      {
        "data": {"name": "bands"},
        "mark": {"type": "rect", "color": "#b4b4ae"},
        "encoding": {
          "x": {"field": "x0", "type": "quantitative", "axis": {"zindex": 1, "orient": "bottom", "values": [2,2.1,2.2,2.3,2.4,2.5,2.6,2.7,2.8,2.9,3,3.1,3.2,3.3,3.4,3.5,3.6,3.7,3.8,3.9,4,4.1,4.2,4.3,4.4,4.5,4.6,4.7,4.8,4.9,5,5.1,5.2,5.3,5.4,5.5,5.6,5.7,5.8,5.9,6,6.1,6.2,6.3,6.4,6.5,6.6,6.7,6.8,6.9,7,7.1,7.2,7.3,7.4,7.5,7.6,7.7,7.8,7.9,8], "labels": false, "domain": false, "tickSize": -4, "title": null}},
          "x2": {"field": "x1"},
          "y": {"field": "lo95", "type": "quantitative", "axis": {"zindex": 1, "orient": "left", "values": [-9.7,-9.6,-9.5,-9.4,-9.3,-9.2,-9.1,-9,-8.9,-8.8,-8.7,-8.6,-8.5,-8.4,-8.3,-8.2,-8.1,-8,-7.9,-7.8,-7.7,-7.6,-7.5,-7.4,-7.3,-7.2,-7.1,-7,-6.9,-6.8,-6.7,-6.6,-6.5,-6.4,-6.3,-6.2,-6.1,-6,-5.9,-5.8,-5.7,-5.6,-5.5,-5.4,-5.3,-5.2,-5.1,-5,-4.9,-4.8,-4.7,-4.6,-4.5,-4.4,-4.3,-4.2,-4.1,-4,-3.9], "labels": false, "domain": false, "tickSize": -4, "title": null}},
          "y2": {"field": "hi95"}
        }
      },
      {
        "data": {"name": "bands"},
        "mark": {"type": "rect", "color": "#878679"},
        "encoding": {
          "x": {"field": "x0", "type": "quantitative", "axis": {"zindex": 1, "orient": "top", "values": [2, 3, 4, 5, 6, 7, 8], "labels": false, "tickSize": -8, "title": null}},
          "x2": {"field": "x1"},
          "y": {"field": "lo68", "type": "quantitative", "axis": {"zindex": 1, "orient": "right", "values": [-9, -8, -7, -6, -5, -4], "labels": false, "tickSize": -8, "title": null}},
          "y2": {"field": "hi68"}
        }
      },
      {
        "data": {"values": [{}]},
        "mark": {"type": "rect", "fill": "#ffffff", "stroke": "#5e5e5e", "strokeWidth": 3},
        "encoding": {
          "x": {"datum": 3.895, "type": "quantitative", "axis": null},
          "x2": {"datum": 6.014},
          "y": {"datum": -7.745, "type": "quantitative", "axis": null},
          "y2": {"datum": -9.435}
        }
      },
      {
        "data": {"name": "lsq"},
        "mark": {"type": "rect"},
        "encoding": {
          "x": {"field": "x0", "type": "quantitative", "axis": null},
          "x2": {"field": "x1"},
          "y": {"field": "y0", "type": "quantitative", "axis": null},
          "y2": {"field": "y1"},
          "color": {"field": "level", "type": "nominal", "legend": null, "scale": {"domain": ["68", "95", "100"], "range": ["#878679", "#b4b4ae", "#e0e0db"]}}
        }
      },
      {
        "data": {"name": "lplus"},
        "mark": {"type": "text", "font": "Liberation Sans", "fontSize": 18, "color": "#555555", "align": "center", "baseline": "middle"},
        "encoding": {
          "x": {"field": "x", "type": "quantitative", "axis": null},
          "y": {"field": "y", "type": "quantitative", "axis": null},
          "text": {"field": "t"}
        }
      },
      {
        "data": {"name": "lpct"},
        "mark": {"type": "text", "font": "Liberation Sans", "fontSize": 17, "color": "#7a7a7a", "align": "right", "baseline": "middle"},
        "encoding": {
          "x": {"field": "x", "type": "quantitative", "axis": null},
          "y": {"field": "y", "type": "quantitative", "axis": null},
          "text": {"field": "t"}
        }
      },
      {
        "data": {"values": [{"label": "CO"}]},
        "mark": {"type": "text", "font": "Liberation Sans", "fontSize": 27, "fontWeight": "bold", "color": "#333333", "align": "left", "baseline": "alphabetic"},
        "encoding": {
          "x": {"datum": 2.185, "type": "quantitative", "axis": {"zindex": 1, "orient": "top", "values": [2,2.1,2.2,2.3,2.4,2.5,2.6,2.7,2.8,2.9,3,3.1,3.2,3.3,3.4,3.5,3.6,3.7,3.8,3.9,4,4.1,4.2,4.3,4.4,4.5,4.6,4.7,4.8,4.9,5,5.1,5.2,5.3,5.4,5.5,5.6,5.7,5.8,5.9,6,6.1,6.2,6.3,6.4,6.5,6.6,6.7,6.8,6.9,7,7.1,7.2,7.3,7.4,7.5,7.6,7.7,7.8,7.9,8], "labels": false, "domain": false, "tickSize": -4, "title": null}},
          "y": {"datum": -4.576, "type": "quantitative", "axis": {"zindex": 1, "orient": "right", "values": [-9.7,-9.6,-9.5,-9.4,-9.3,-9.2,-9.1,-9,-8.9,-8.8,-8.7,-8.6,-8.5,-8.4,-8.3,-8.2,-8.1,-8,-7.9,-7.8,-7.7,-7.6,-7.5,-7.4,-7.3,-7.2,-7.1,-7,-6.9,-6.8,-6.7,-6.6,-6.5,-6.4,-6.3,-6.2,-6.1,-6,-5.9,-5.8,-5.7,-5.6,-5.5,-5.4,-5.3,-5.2,-5.1,-5,-4.9,-4.8,-4.7,-4.6,-4.5,-4.4,-4.3,-4.2,-4.1,-4,-3.9], "labels": false, "domain": false, "tickSize": -4, "title": null}},
          "text": {"field": "label"}
        }
      }
    ]
  }
]
}
